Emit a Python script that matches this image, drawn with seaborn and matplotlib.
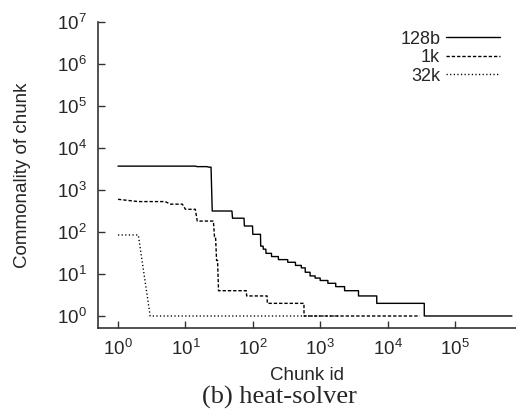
import numpy as np
import pandas as pd
import matplotlib
matplotlib.use("Agg")
import matplotlib.pyplot as plt
import seaborn as sns

# ---- data: rank-ordered commonality, as (first chunk id of a level, commonality level)
series_names = ["128b", "1k", "32k"]

starts_128b = [1, 15, 22, 25, 50, 75, 100, 131, 143, 157, 190, 240, 330, 430, 525,
               600, 708, 840, 1000, 1300, 1700, 2300, 3700, 6900, 35000]
values_128b = [3700, 3600, 3500, 316, 213, 139, 88, 46, 39, 31, 26, 22, 19, 16, 14,
               11, 9, 8, 7, 6, 5, 4, 3, 2, 1]
last_128b = 700000

starts_1k = [1, 2, 6, 10, 15, 27, 29, 31, 81, 164, 575]
values_1k = [600, 530, 460, 347, 182, 77, 21, 4, 3, 2, 1]
last_1k = 30000

starts_32k = [1, 3]
values_32k = [85, 1]
last_32k = 2000

x_ticks = [1, 10, 100, 1000, 10000, 100000]
y_ticks = [1, 10, 100, 1000, 10000, 100000, 1000000, 10000000]


def expand(starts, values, last):
    xs, ys = [], []
    for i, (s, v) in enumerate(zip(starts, values)):
        end = starts[i + 1] - 1 if i + 1 < len(starts) else last
        xs += [s, end]
        ys += [v, v]
    return xs, ys


frames = []
for name, st, va, la in [("128b", starts_128b, values_128b, last_128b),
                         ("1k", starts_1k, values_1k, last_1k),
                         ("32k", starts_32k, values_32k, last_32k)]:
    xs, ys = expand(st, va, la)
    frames.append(pd.DataFrame({"chunk": xs, "commonality": ys, "series": name}))
df = pd.concat(frames, ignore_index=True)

sns.set_style("ticks")
plt.rcParams["font.family"] = ["Liberation Sans", "DejaVu Sans"]
plt.rcParams["mathtext.fontset"] = "custom"
plt.rcParams["mathtext.rm"] = "Liberation Sans"
plt.rcParams["mathtext.it"] = "Liberation Sans"

fig = plt.figure(figsize=(5.16, 4.15), dpi=100)
ax = fig.add_axes([98 / 516, 1 - 328 / 415, 1 - 98 / 516, (328 - 22) / 415])

sns.lineplot(data=df, x="chunk", y="commonality", style="series",
             style_order=series_names,
             dashes={"128b": "", "1k": (2.4, 1.4), "32k": (0.9, 1.7)},
             color="black", linewidth=1.0, estimator=None, sort=False,
             errorbar=None, ax=ax)

ax.set_xscale("log")
ax.set_yscale("log")
ax.set_xlim(10 ** -0.297, 10 ** 5.905)
ax.set_ylim(10 ** -0.286, 1e7)
ax.set_xticks(x_ticks)
ax.set_yticks(y_ticks)
ax.minorticks_off()
ax.tick_params(direction="in", length=5, width=1.0, labelsize=13.5, pad=8,
               color="#333333")
for side in ["top", "right"]:
    ax.spines[side].set_visible(False)
for side in ["left", "bottom"]:
    ax.spines[side].set_linewidth(1.2)
    ax.spines[side].set_color("#333333")

ax.set_xlabel("Chunk id", fontsize=13.5, va="center")
ax.xaxis.set_label_coords(0.5, (328 - 375) / 306)
ax.set_ylabel("Commonality of chunk", fontsize=13.5, va="center")
ax.yaxis.set_label_coords((23 - 98) / 418, 0.5)

handles, labels = ax.get_legend_handles_labels()
ax.legend(handles, labels, loc="upper right", bbox_to_anchor=(1 - 9 / 418, 0.995),
          frameon=False, markerfirst=False, fontsize=13, handlelength=3.0,
          handletextpad=0.3, labelspacing=0.08, borderaxespad=0.0)

fig.text(279 / 516, 1 - 404 / 415, "(b) heat-solver", ha="center", va="baseline",
         fontsize=19, family=["Liberation Serif", "DejaVu Serif"])

fig.savefig("out.png", dpi=100)
